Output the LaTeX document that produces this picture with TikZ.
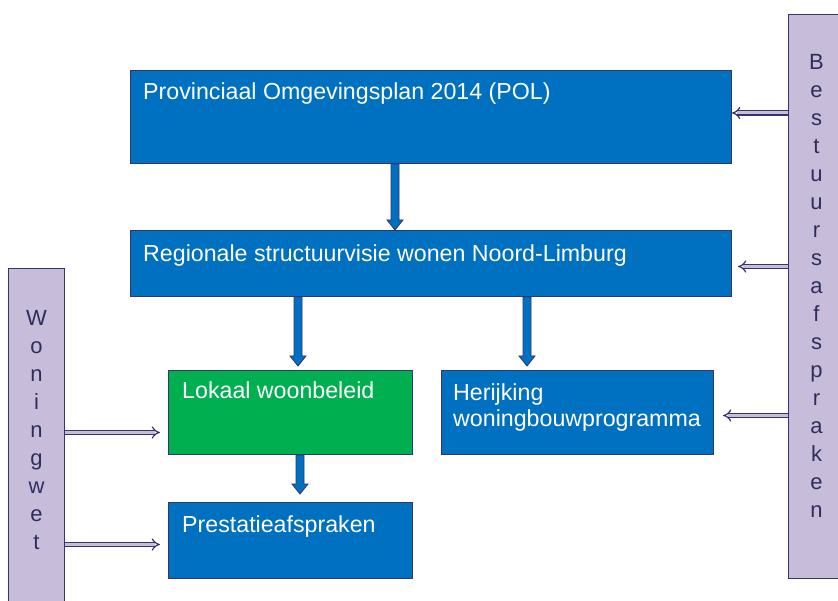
\documentclass[tikz,border=0pt]{standalone}
\usepackage{fontspec}
\setmainfont{Liberation Sans}
\usetikzlibrary{arrows.meta,calc}
\definecolor{BoxBlue}{RGB}{0,112,192}
\definecolor{BoxGreen}{RGB}{0,176,80}
\definecolor{BarClr}{RGB}{199,189,218}
\definecolor{EdgeClr}{RGB}{52,52,110}
\definecolor{BarText}{RGB}{46,46,94}

% filled block arrow pointing down, from #1 to the height of #2
\newcommand{\blockdown}[2]{%
  \filldraw[blockarr] let \p1=(#1), \p2=(#2) in
    (\x1-4pt,\y1) -- (\x1-4pt,\y2+10pt) -- (\x1-8pt,\y2+10pt) -- (\x1,\y2)
    -- (\x1+8pt,\y2+10pt) -- (\x1+4pt,\y2+10pt) -- (\x1+4pt,\y1) -- cycle;}

\begin{document}
\begin{tikzpicture}[x=1pt,y=-1pt,
  box/.style={draw=EdgeClr,line width=1pt,fill=BoxBlue,anchor=north west,inner sep=0pt},
  bar/.style={draw=EdgeClr,line width=1pt,fill=BarClr,anchor=north west,inner sep=0pt},
  boxlbl/.style={anchor=north west,inner sep=0pt,text=white,align=left,
    font=\fontsize{23.2}{26}\selectfont},
  barlbl/.style={anchor=north,inner sep=0pt,text=BarText,align=center,
    font=\fontsize{22}{28}\selectfont},
  blockarr/.style={draw=EdgeClr,line width=0.8pt,fill=BoxBlue},
  dblarr/.style={draw=EdgeClr,double=BarClr,line width=1.2pt,double distance=3pt,
    -{Implies[length=6pt,width=11pt]}}]
\useasboundingbox (0,0) rectangle (838,601);

\node[box,minimum width=601pt,minimum height=93pt,
  label={[boxlbl,xshift=13pt,yshift=-12pt]north west:Provinciaal Omgevingsplan 2014 (POL)}]
  (pol) at (130,70) {};
\node[box,minimum width=601pt,minimum height=66pt,
  label={[boxlbl,xshift=13pt,yshift=-14pt]north west:Regionale structuurvisie wonen Noord-Limburg}]
  (reg) at (130,230) {};
\node[box,fill=BoxGreen,minimum width=244pt,minimum height=84pt,
  label={[boxlbl,xshift=14pt,yshift=-11pt]north west:Lokaal woonbeleid}]
  (lok) at (168,370) {};
\node[box,minimum width=272pt,minimum height=84pt,
  label={[boxlbl,xshift=12pt,yshift=-13pt]north west:Herijking\\woningbouwprogramma}]
  (her) at (441,370) {};
\node[box,minimum width=244pt,minimum height=76pt,
  label={[boxlbl,xshift=14pt,yshift=-13pt]north west:Prestatieafspraken}]
  (pre) at (168,502) {};

\node[bar,minimum width=56pt,minimum height=360pt,
  label={[barlbl,yshift=-42pt]north:W\\o\\n\\i\\n\\g\\w\\e\\t}]
  (wet) at (8,268) {};
\node[bar,minimum width=56pt,minimum height=564pt,
  label={[barlbl,yshift=-40pt]north:B\\e\\s\\t\\u\\u\\r\\s\\a\\f\\s\\p\\r\\a\\k\\e\\n}]
  (best) at (788,14) {};

\blockdown{[xshift=265pt]pol.south west}{reg.north}
\blockdown{[xshift=168pt]reg.south west}{[yshift=4pt]lok.north}
\blockdown{[xshift=397pt]reg.south west}{[yshift=4pt]her.north}
\blockdown{[xshift=132pt]lok.south west}{[yshift=8pt]pre.north}

\draw[dblarr] ([yshift=4pt]best.west |- pol.east) -- ([yshift=4pt]pol.east);
\draw[dblarr] ([yshift=-3pt]best.west |- reg.east) -- ([xshift=6pt,yshift=-3pt]reg.east);
\draw[dblarr] ([yshift=-3pt]best.west |- her.east) -- ([xshift=9pt,yshift=-3pt]her.east);
\draw[dblarr] ([yshift=-20pt]wet.east |- lok.west) -- ([xshift=-8pt,yshift=-20pt]lok.west);
\draw[dblarr] ([yshift=-4pt]wet.east |- pre.west) -- ([xshift=-8pt,yshift=-4pt]pre.west);

\end{tikzpicture}
\end{document}
